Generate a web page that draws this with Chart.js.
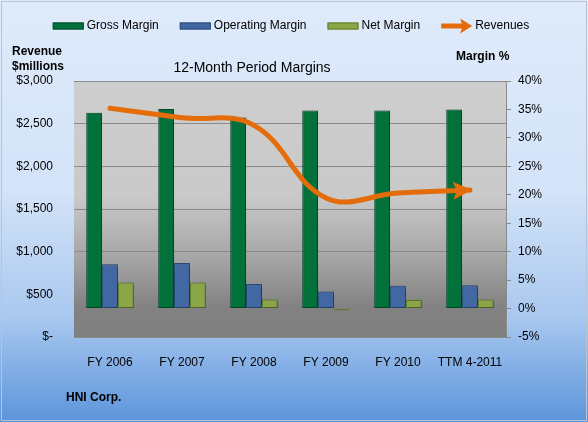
<!DOCTYPE html>
<html>
<head>
<meta charset="utf-8">
<script src="https://cdn.jsdelivr.net/npm/chart.js@4/dist/chart.umd.min.js"></script>
<style>
    html, body { margin: 0; padding: 0; background: #fff; }
    #wrap { width: 588px; height: 422px; }
</style>
</head>
<body>
<div id="wrap"><canvas id="marginChart" width="588" height="422"></canvas></div>
<script>
// data
const periods = ['FY 2006', 'FY 2007', 'FY 2008', 'FY 2009', 'FY 2010', 'TTM 4-2011'];
const grossMargin = [34.4, 35.1, 33.6, 34.8, 34.8, 35.0];
const operatingMargin = [7.8, 8.0, 4.3, 3.0, 4.0, 4.1];
const netMargin = [4.6, 4.6, 1.6, -0.3, 1.5, 1.6];
const revenues = [2680, 2570, 2480, 1630, 1687, 1722];
const revenueAxis = [0, 3000, 500];   // min, max, step
const marginAxis = [-5, 40, 5];

const FONT = '"Liberation Sans", Arial, sans-serif';
const colors = {
    gross: '#02703a', grossEdge: '#014d27',
    operating: '#4168a2', operatingEdge: '#2a4a78',
    net: '#8ba646', netEdge: '#5e7828',
    revenue: '#e46c0a',
    grid: '#8a8a8a'
};

// page background + plot area gradient
const backdrop = {
    id: 'backdrop',
    beforeDraw(chart) {
        const { ctx, width, height, chartArea: a } = chart;
        ctx.save();
        const bg = ctx.createLinearGradient(0, 0, 0, height);
        bg.addColorStop(0, '#dfebfb');
        bg.addColorStop(0.45, '#d3e3f8');
        bg.addColorStop(0.75, '#a9c8ef');
        bg.addColorStop(1, '#5c95db');
        ctx.fillStyle = bg;
        ctx.fillRect(0, 0, width, height);
        ctx.strokeStyle = '#b9c3d3';
        ctx.lineWidth = 1;
        ctx.strokeRect(1.5, 1.5, width - 3, height - 3);

        const pg = ctx.createLinearGradient(0, a.top, 0, a.bottom);
        pg.addColorStop(0, '#cecece');
        pg.addColorStop(0.45, '#c9c9c9');
        pg.addColorStop(0.7, '#a4a4a4');
        pg.addColorStop(0.88, '#828282');
        pg.addColorStop(1, '#7f7f7f');
        ctx.fillStyle = pg;
        ctx.fillRect(a.left, a.top, a.right - a.left, a.bottom - a.top);
        ctx.restore();
    }
};

// soft drop shadow under the bars only
const barShadow = {
    id: 'barShadow',
    beforeDatasetDraw(chart, args) {
        if (args.meta.type !== 'bar') return;
        const ctx = chart.ctx;
        ctx.save();
        ctx.shadowColor = 'rgba(0,0,0,0.35)';
        ctx.shadowBlur = 3;
        ctx.shadowOffsetX = 2;
        ctx.shadowOffsetY = 1;
    },
    afterDatasetDraw(chart, args) {
        if (args.meta.type !== 'bar') return;
        chart.ctx.restore();
    }
};

function drawArrowHead(ctx, x, y, angle, len, half, color) {
    ctx.save();
    ctx.translate(x, y);
    ctx.rotate(angle);
    ctx.beginPath();
    ctx.moveTo(0, 0);
    ctx.lineTo(-len, -half);
    ctx.lineTo(-len * 0.8, 0);
    ctx.lineTo(-len, half);
    ctx.closePath();
    ctx.fillStyle = color;
    ctx.fill();
    ctx.restore();
}

// arrow at the end of the revenue line
const lineArrow = {
    id: 'lineArrow',
    afterDatasetsDraw(chart) {
        chart.data.datasets.forEach((ds, i) => {
            if (ds.type !== 'line') return;
            const pts = chart.getDatasetMeta(i).data;
            const p = pts[pts.length - 1];
            const q = pts[pts.length - 2];
            const cp = p.cp1x !== undefined ? { x: p.cp1x, y: p.cp1y } : q;
            const ang = Math.atan2(p.y - cp.y, p.x - cp.x);
            drawArrowHead(chart.ctx, p.x + 2, p.y, ang, 19, 9, ds.borderColor);
        });
    }
};

// legend, title, axis headings, footer
const texts = {
    id: 'texts',
    afterDraw(chart) {
        const { ctx, width } = chart;
        ctx.save();
        ctx.textBaseline = 'middle';
        ctx.fillStyle = '#000';

        // legend
        ctx.font = '12px ' + FONT;
        const boxW = 31, gapText = 3, gapItem = 21;
        const items = chart.data.datasets.slice().sort((m, n) => m.legendOrder - n.legendOrder);
        let total = 0;
        items.forEach((ds, k) => {
            total += boxW + gapText + ctx.measureText(ds.label).width + (k < items.length - 1 ? gapItem : 0);
        });
        let x = width / 2 - total / 2 - 3;
        const ly = 26;
        items.forEach(ds => {
            if (ds.type === 'line') {
                ctx.strokeStyle = ds.borderColor;
                ctx.lineWidth = 5;
                ctx.beginPath();
                ctx.moveTo(x, ly);
                ctx.lineTo(x + boxW - 8, ly);
                ctx.stroke();
                drawArrowHead(ctx, x + boxW, ly, 0, 12, 7.5, ds.borderColor);
            } else {
                ctx.fillStyle = ds.backgroundColor;
                ctx.fillRect(x, ly - 3.5, boxW, 7);
                ctx.strokeStyle = ds.borderColor;
                ctx.lineWidth = 1;
                ctx.strokeRect(x + 0.5, ly - 3, boxW - 1, 6);
            }
            x += boxW + gapText;
            ctx.fillStyle = '#000';
            ctx.textAlign = 'left';
            ctx.fillText(ds.label, x, ly);
            x += ctx.measureText(ds.label).width + gapItem;
        });

        // title
        ctx.font = '14px ' + FONT;
        ctx.textAlign = 'center';
        ctx.fillText('12-Month Period Margins', 252, 68);

        // axis headings
        ctx.font = 'bold 12px ' + FONT;
        ctx.textAlign = 'left';
        ctx.fillText('Revenue', 12, 52);
        ctx.fillText('$millions', 12, 67);
        ctx.fillText('Margin %', 456, 57);
        ctx.fillText('HNI Corp.', 66, 398);
        ctx.restore();
    }
};

const barSet = (label, data, fill, edge, legendOrder) => ({
    type: 'bar',
    label: label,
    data: data,
    yAxisID: 'yR',
    backgroundColor: fill,
    borderColor: edge,
    borderWidth: 1,
    borderSkipped: false,
    categoryPercentage: 0.66,
    barPercentage: 1,
    order: 1,
    legendOrder: legendOrder
});

new Chart(document.getElementById('marginChart'), {
    data: {
        labels: periods,
        datasets: [
            barSet('Gross Margin', grossMargin, colors.gross, colors.grossEdge, 0),
            barSet('Operating Margin', operatingMargin, colors.operating, colors.operatingEdge, 1),
            barSet('Net Margin', netMargin, colors.net, colors.netEdge, 2),
            {
                type: 'line',
                label: 'Revenues',
                data: revenues,
                yAxisID: 'yL',
                borderColor: colors.revenue,
                borderWidth: 5,
                borderCapStyle: 'round',
                tension: 0.4,
                pointRadius: 0,
                order: 0,
                legendOrder: 3
            }
        ]
    },
    options: {
        responsive: false,
        animation: false,
        devicePixelRatio: 1,
        layout: { padding: { top: 81, left: 0, right: 0, bottom: 0 } },
        plugins: {
            legend: { display: false },
            title: { display: false },
            tooltip: { enabled: false }
        },
        scales: {
            x: {
                grid: { display: false },
                border: { display: false },
                ticks: { color: '#000', font: { family: FONT, size: 12 }, padding: 10, maxRotation: 0 },
                afterFit: s => { s.height = 85; }
            },
            yL: {
                position: 'left',
                min: revenueAxis[0], max: revenueAxis[1],
                grid: { color: colors.grid, drawTicks: false },
                border: { display: false },
                ticks: {
                    stepSize: revenueAxis[2],
                    color: '#000',
                    padding: 21,
                    font: { family: FONT, size: 12 },
                    callback: v => v === 0 ? '$-' : '$' + v.toLocaleString('en-US')
                },
                afterFit: s => { s.width = 74; }
            },
            yR: {
                position: 'right',
                min: marginAxis[0], max: marginAxis[1],
                grid: { drawOnChartArea: false, color: colors.grid, tickLength: 5 },
                border: { display: true, color: colors.grid },
                ticks: {
                    stepSize: marginAxis[2],
                    color: '#000',
                    padding: 7,
                    font: { family: FONT, size: 12 },
                    callback: v => v + '%'
                },
                afterFit: s => { s.width = 82; }
            }
        }
    },
    plugins: [backdrop, barShadow, lineArrow, texts]
});
</script>
</body>
</html>
